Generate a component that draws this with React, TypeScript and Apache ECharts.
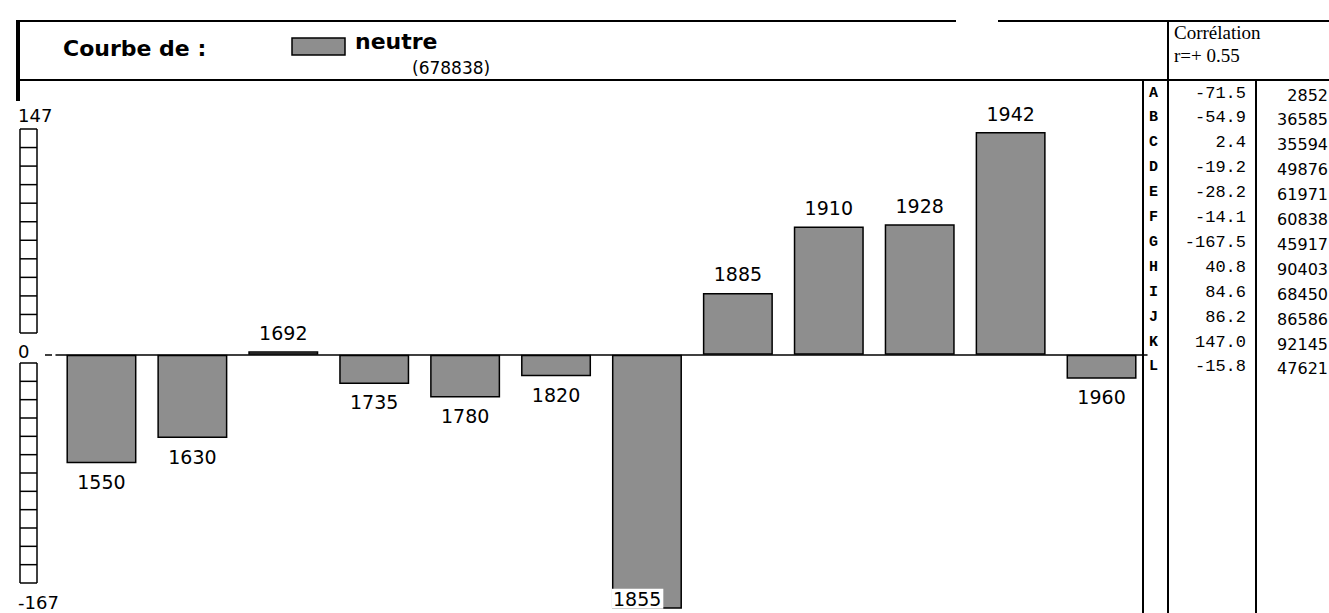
import React, { useEffect, useRef } from 'react';
import * as echarts from 'echarts';

const categories = ['1550', '1630', '1692', '1735', '1780', '1820', '1855', '1885', '1910', '1928', '1942', '1960'];
const values = [-71.5, -54.9, 2.4, -19.2, -28.2, -14.1, -167.5, 40.8, 84.6, 86.2, 147.0, -15.8];
const rowLetters = ['A', 'B', 'C', 'D', 'E', 'F', 'G', 'H', 'I', 'J', 'K', 'L'];
const effectifs = [2852, 36585, 35594, 49876, 61971, 60838, 45917, 90403, 68450, 86586, 92145, 47621];
const titleLabel = 'Courbe de :';
const seriesName = 'neutre';
const totalLabel = '(678838)';
const corrTitle = 'Corrélation';
const corrValue = 'r=+ 0.55';
const yMax = 147;
const yMin = -167;
const axisLabels = [String(yMax), '0', String(yMin)];

const barFill = '#8e8e8e';

function txt(text: string, x: number, y: number, font: string, align: string = 'left') {
  return {
    type: 'text',
    silent: true,
    style: {
      text,
      x,
      y,
      font,
      fill: '#000',
      align,
      textAlign: align,
      verticalAlign: 'middle',
      textVerticalAlign: 'middle',
    },
  };
}

function line(x1: number, y1: number, x2: number, y2: number, w: number = 2) {
  return {
    type: 'line',
    silent: true,
    shape: { x1, y1, x2, y2 },
    style: { stroke: '#000', lineWidth: w },
  };
}

export default function App() {
  const ref = useRef<HTMLDivElement>(null);

  useEffect(() => {
    document.body.style.margin = '0';
    if (!ref.current) return;
    const chart = echarts.init(ref.current, null, { renderer: 'svg' });

    const sans = '"DejaVu Sans", sans-serif';
    const serif = '"Liberation Serif", "DejaVu Serif", serif';
    const mono = '"Liberation Mono", "DejaVu Sans Mono", monospace';
    const graphics: any[] = [];

    // frame
    graphics.push(line(17, 21, 956, 21));
    graphics.push(line(998, 21, 1329, 21));
    graphics.push(line(17, 80, 1329, 80));
    graphics.push({ type: 'rect', silent: true, shape: { x: 16, y: 20, width: 4, height: 81 }, style: { fill: '#000' } });
    graphics.push(line(1168, 21, 1168, 80));
    graphics.push(line(1143, 80, 1143, 613));
    graphics.push(line(1168, 80, 1168, 613));
    graphics.push(line(1256, 80, 1256, 613));

    // header
    graphics.push(txt(titleLabel, 63, 48, `bold 22px ${sans}`));
    graphics.push({
      type: 'rect',
      silent: true,
      shape: { x: 292, y: 38, width: 53, height: 17 },
      style: { fill: barFill, stroke: '#000', lineWidth: 1.5 },
    });
    graphics.push(txt(seriesName, 355, 41, `bold 22px ${sans}`));
    graphics.push(txt(totalLabel, 412, 68, `17px ${sans}`));
    graphics.push(txt(corrTitle, 1174, 32, `19px ${serif}`));
    graphics.push(txt(corrValue, 1174, 55, `19px ${serif}`));

    // table
    rowLetters.forEach((l, i) => {
      const y = 93 + i * 24.9;
      graphics.push(txt(l, 1149, y, `bold 15px ${mono}`));
      graphics.push(txt(values[i].toFixed(1), 1246, y, `17px ${mono}`, 'right'));
      graphics.push(txt(String(effectifs[i]), 1328, y + 2, `16px ${sans}`, 'right'));
    });

    // left ladder scale
    const upTop = 129, upBot = 333, upN = 11;
    const loTop = 363, loBot = 583, loN = 12;
    graphics.push(line(20, upTop, 20, upBot, 1.5));
    graphics.push(line(37, upTop, 37, upBot, 1.5));
    for (let i = 0; i <= upN; i++) {
      const y = upTop + (i * (upBot - upTop)) / upN;
      graphics.push(line(20, y, 37, y, 1.5));
    }
    graphics.push(line(20, loTop, 20, loBot, 1.5));
    graphics.push(line(37, loTop, 37, loBot, 1.5));
    for (let i = 0; i <= loN; i++) {
      const y = loTop + (i * (loBot - loTop)) / loN;
      graphics.push(line(20, y, 37, y, 1.5));
    }
    graphics.push(txt(axisLabels[0], 18, 115, `18px ${sans}`));
    graphics.push(txt(axisLabels[1], 18, 351, `18px ${sans}`));
    graphics.push(txt(axisLabels[2], 18, 602, `18px ${sans}`));
    graphics.push(line(45, 355, 52, 355, 1.5));

    const data = values.map((v) => {
      if (v < yMin) {
        return {
          value: v,
          label: {
            position: 'insideBottomLeft',
            distance: 0,
            backgroundColor: '#fff',
            padding: [1, 2, 0, 1],
          },
        };
      }
      return { value: v, label: { position: v < 0 ? 'bottom' : 'top', distance: 9 } };
    });

    chart.setOption({
      animation: false,
      grid: { left: 56, right: 182, top: 132, height: 476 },
      xAxis: {
        type: 'category',
        data: categories,
        axisLine: { show: true, onZero: true, lineStyle: { color: '#000', width: 1.5 } },
        axisTick: { show: false },
        axisLabel: { show: false },
        splitLine: { show: false },
      },
      yAxis: {
        type: 'value',
        min: yMin,
        max: yMax,
        show: false,
        splitLine: { show: false },
      },
      series: [
        {
          type: 'bar',
          name: seriesName,
          data,
          barWidth: 70,
          clip: false,
          itemStyle: { color: barFill, borderColor: '#000', borderWidth: 1.5 },
          label: {
            show: true,
            formatter: '{b}',
            color: '#000',
            fontSize: 19,
            fontFamily: 'DejaVu Sans',
          },
        },
      ],
      graphic: graphics,
    });

    return () => chart.dispose();
  }, []);

  return <div ref={ref} style={{ width: 1329, height: 613, background: '#fff' }} />;
}
